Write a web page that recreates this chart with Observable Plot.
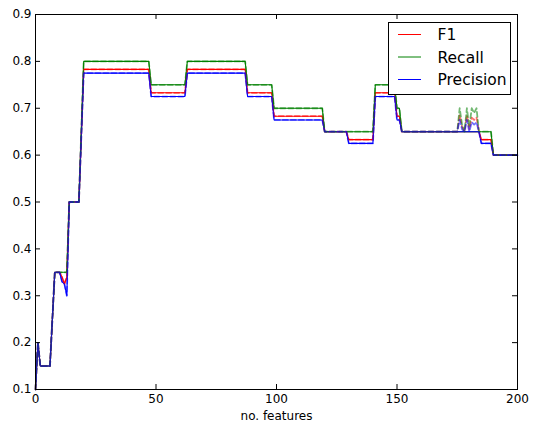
<!DOCTYPE html>
<html><head><meta charset="utf-8">
<script src="https://cdn.jsdelivr.net/npm/d3@7"></script>
<script src="https://cdn.jsdelivr.net/npm/@observablehq/plot@0.6"></script>
<style>
html,body{margin:0;padding:0;background:#fff;}
#wrap{position:relative;width:534px;height:423px;font-family:"DejaVu Sans",sans-serif;}
#legend{position:absolute;left:388px;top:22px;}
</style>
</head><body>
<div id="wrap"></div>
<script>
// ---- data ----
const names = ["F1", "Recall", "Precision"];
const colors = ["#ff0000", "#008000", "#0000ff"];
const xs = [0,1,2,6,8,10,11,12,13,14,18,20,47,48,62,63,87,88,98,99,119,120,129,130,140,141,149,150,151,152,184,185,189,190,200];
const f1 = [0.10,0.20,0.15,0.15,0.35,0.35,0.34,0.325,0.34,0.50,0.50,0.783,0.783,0.733,0.733,0.783,0.783,0.733,0.733,0.683,0.683,0.65,0.65,0.633,0.633,0.733,0.733,0.683,0.683,0.65,0.65,0.633,0.633,0.60,0.60];
const recall = [0.10,0.20,0.15,0.15,0.35,0.35,0.35,0.35,0.35,0.50,0.50,0.80,0.80,0.75,0.75,0.80,0.80,0.75,0.75,0.70,0.70,0.65,0.65,0.65,0.65,0.75,0.75,0.70,0.70,0.65,0.65,0.65,0.65,0.60,0.60];
const precision = [0.10,0.20,0.15,0.15,0.35,0.35,0.33,0.325,0.30,0.50,0.50,0.775,0.775,0.725,0.725,0.775,0.775,0.725,0.725,0.675,0.675,0.65,0.65,0.625,0.625,0.725,0.725,0.675,0.675,0.65,0.65,0.625,0.625,0.60,0.60];
// dashed series differ from solid only in this region
const spikeX = [175,176,177,178,179,180,181,182,183];
const f1Spike = [0.65,0.685,0.66,0.65,0.685,0.655,0.68,0.675,0.68];
const recallSpike = [0.65,0.70,0.665,0.65,0.70,0.66,0.70,0.69,0.70];
const precisionSpike = [0.65,0.675,0.655,0.65,0.675,0.65,0.67,0.665,0.67];
const xTicks = [0,50,100,150,200];
const yTicks = [0.1,0.2,0.3,0.4,0.5,0.6,0.7,0.8,0.9];

// ---- build tables ----
const solidVals = [f1, recall, precision];
const spikeVals = [f1Spike, recallSpike, precisionSpike];
const solid = names.flatMap((n, k) => xs.map((x, i) => ({x, v: solidVals[k][i], name: n})));
const dashed = names.flatMap((n, k) => {
  const pts = xs.map((x, i) => ({x, v: solidVals[k][i], name: n}))
    .filter(d => d.x < spikeX[0] || d.x > spikeX[spikeX.length - 1]);
  spikeX.forEach((x, i) => pts.push({x, v: spikeVals[k][i], name: n}));
  return pts.sort((a, b) => a.x - b.x);
});

const W = 534, H = 423, mL = 35, mR = 17, mT = 14, mB = 34;
const fw = W - mL - mR, fh = H - mT - mB, tl = 5;

const chart = Plot.plot({
  width: W, height: H,
  marginLeft: mL, marginRight: mR, marginTop: mT, marginBottom: mB,
  style: {fontFamily: "DejaVu Sans", fontSize: "12px", color: "black", background: "white"},
  x: {domain: [0, 200]},
  y: {domain: [0.1, 0.9]},
  color: {domain: names, range: colors},
  marks: [
    Plot.axisY(yTicks, {tickSize: 0, tickPadding: 4, tickFormat: d => d.toFixed(1), label: null, fill: "black"}),
    Plot.axisX(xTicks, {tickSize: 0, tickPadding: 5, tickFormat: d => String(d), label: "no. features", labelAnchor: "center", labelArrow: "none", labelOffset: 30, fill: "black"}),
    Plot.line(solid, {x: "x", y: "v", z: "name", stroke: "name", strokeWidth: 1.1}),
    Plot.line(dashed, {x: "x", y: "v", z: "name", stroke: "name", strokeWidth: 1.8, strokeOpacity: 0.55, strokeDasharray: "5,3"}),
    Plot.ruleX(xTicks, {x: d => d, insetTop: fh - tl, stroke: "black"}),
    Plot.ruleX(xTicks, {x: d => d, insetBottom: fh - tl, stroke: "black"}),
    Plot.ruleY(yTicks, {y: d => d, insetRight: fw - tl, stroke: "black"}),
    Plot.ruleY(yTicks, {y: d => d, insetLeft: fw - tl, stroke: "black"}),
    Plot.frame({stroke: "black"})
  ]
});
const wrap = document.getElementById("wrap");
wrap.appendChild(chart);

// ---- legend (opaque box over the plot) ----
const lw = 123, lh = 73, rowY = [12.5, 35, 57.5];
const leg = d3.select(wrap).append("svg").attr("id", "legend").attr("width", lw).attr("height", lh);
leg.append("rect").attr("x", 0.5).attr("y", 0.5).attr("width", lw - 1).attr("height", lh - 1)
  .attr("fill", "white").attr("stroke", "black");
names.forEach((n, i) => {
  leg.append("line").attr("x1", 10).attr("x2", 33).attr("y1", rowY[i]).attr("y2", rowY[i])
    .attr("stroke", colors[i]).attr("stroke-width", 1);
  leg.append("text").attr("x", 49.5).attr("y", rowY[i]).attr("dy", "0.36em")
    .attr("font-family", "DejaVu Sans").attr("font-size", "15.5px").attr("fill", "black").text(n);
});
</script>
</body></html>
